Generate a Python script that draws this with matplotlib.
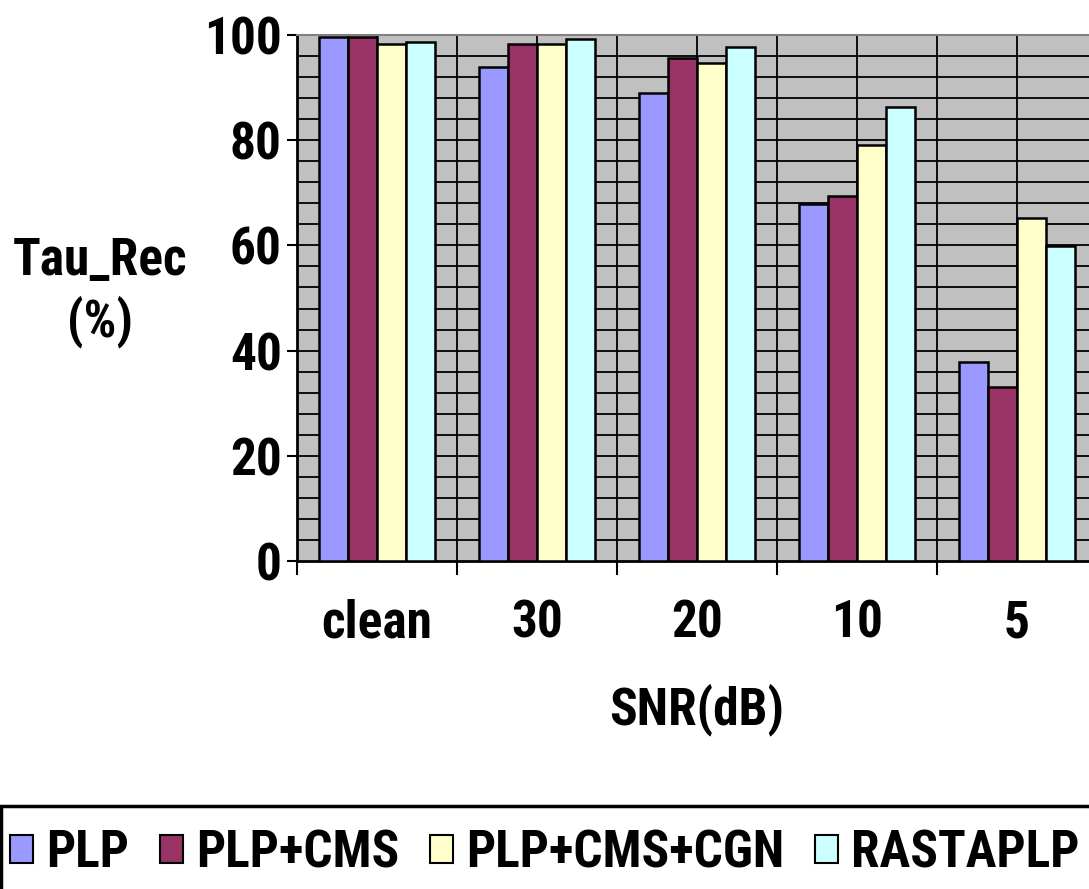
import matplotlib
matplotlib.use("Agg")
import matplotlib.pyplot as plt
from matplotlib import font_manager
from matplotlib.patches import Patch, Rectangle
import numpy as np

categories = ["clean", "30", "20", "10", "5"]
series_names = ["PLP", "PLP+CMS", "PLP+CMS+CGN", "RASTAPLP"]
plp = [99.7, 94.0, 88.9, 67.9, 37.9]
plp_cms = [99.7, 98.2, 95.6, 69.3, 33.1]
plp_cms_cgn = [98.2, 98.2, 94.6, 79.0, 65.2]
rastaplp = [98.7, 99.2, 97.7, 86.3, 59.9]
colors = ["#9999FF", "#993366", "#FFFFCC", "#CCFFFF"]
yticks = [0, 20, 40, 60, 80, 100]

# pick a narrow sans-serif face that has a bold cut
bold_faces = {f.name for f in font_manager.fontManager.ttflist
              if isinstance(f.weight, int) and f.weight >= 700}
candidates = ["Nimbus Sans Narrow", "Liberation Sans Narrow", "Arial Narrow",
              "Archivo Narrow", "Roboto Condensed", "PT Sans Narrow",
              "Pragati Narrow", "Asap Condensed", "Liberation Sans"]
family = next(c for c in candidates if c in bold_faces)
plt.rcParams["font.family"] = [family, "DejaVu Sans"]
plt.rcParams["font.weight"] = "bold"
FS = 37 if family != "Liberation Sans" else 31

W, H = 1089, 889
fig = plt.figure(figsize=(W / 100, H / 100), dpi=100)
ax = fig.add_axes([297 / W, 1 - 561 / H, 800 / W, 526 / H])
ax.set_facecolor("#C0C0C0")

x = np.arange(len(categories))
bw = 0.181
values = [plp, plp_cms, plp_cms_cgn, rastaplp]
for i, (vals, c) in enumerate(zip(values, colors)):
    ax.bar(x + (i - 1.5) * bw, vals, bw, color=c, edgecolor="black",
           linewidth=1.8, zorder=3)

ax.set_xlim(-0.5, len(categories) - 0.5)
ax.set_ylim(0, 100)

# gridlines: every 4 units horizontally, every half category vertically
for yv in np.arange(4, 100, 4):
    ax.axhline(yv, color="black", linewidth=1.3, zorder=1)
for xv in np.arange(-0.5, len(categories), 0.5)[1:]:
    ax.axvline(xv, color="black", linewidth=1.3, zorder=1)

ax.set_yticks(yticks)
ax.set_yticklabels([str(v) for v in yticks], fontsize=FS, fontweight="bold")
ax.tick_params(axis="y", direction="out", length=7, width=1.5, pad=4)

ax.set_xticks(np.arange(-0.5, len(categories), 1.0))
ax.set_xticklabels([])
ax.tick_params(axis="x", which="major", direction="out", length=10, width=1.5)
ax.set_xticks(x, minor=True)
ax.set_xticklabels(categories, minor=True, fontsize=FS, fontweight="bold")
ax.tick_params(axis="x", which="minor", length=0, pad=27)

for s in ["left", "bottom"]:
    ax.spines[s].set_linewidth(2)
    ax.spines[s].set_color("black")
ax.spines["top"].set_color("#808080")
ax.spines["top"].set_linewidth(1.5)
ax.spines["right"].set_visible(False)

fig.text(697 / W, 1 - 710 / H, "SNR(dB)", ha="center", va="center",
         fontsize=FS, fontweight="bold")
fig.text(100 / W, 1 - 292 / H, "Tau_Rec\n(%)", ha="center", va="center",
         multialignment="center", fontsize=FS, fontweight="bold", linespacing=1.25)

# legend box
fig.patches.append(Rectangle((1 / W, -0.05), 1.05, (H - 806) / H + 0.05,
                             transform=fig.transFigure, facecolor="white",
                             edgecolor="black", linewidth=2.5, zorder=0))
handles = [Patch(facecolor=c, edgecolor="black", linewidth=1.5) for c in colors]
fig.legend(handles, series_names, loc="center left",
           bbox_to_anchor=(0, 1 - 853 / H), ncol=4, frameon=False,
           handlelength=0.45, handleheight=0.45,
           handletextpad=0.25, columnspacing=0.6, borderpad=0, borderaxespad=0.2,
           prop={"family": [family, "DejaVu Sans"], "weight": "bold", "size": FS})

fig.savefig("out.png", dpi=100)
